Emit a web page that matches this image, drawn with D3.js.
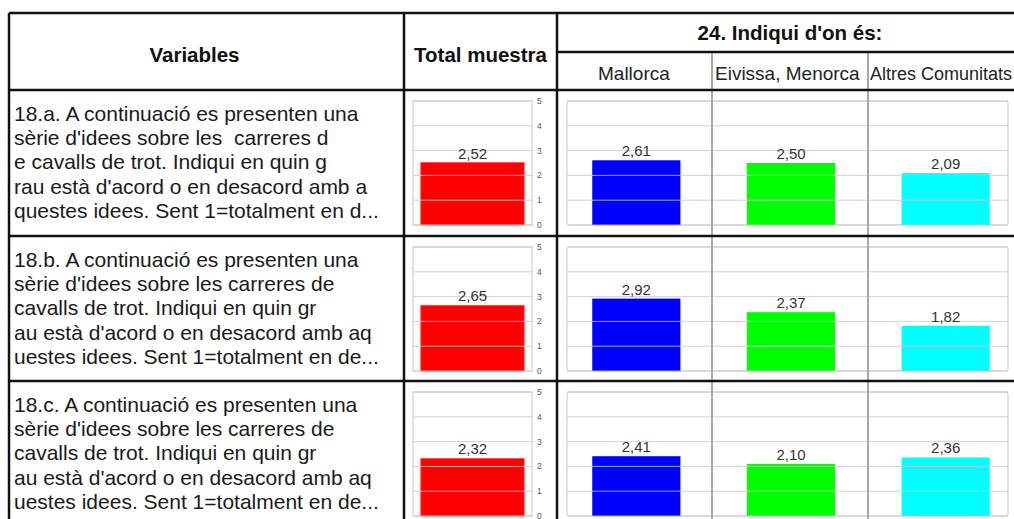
<!DOCTYPE html>
<html>
<head>
<meta charset="utf-8">
<script src="https://cdn.jsdelivr.net/npm/d3@7"></script>
<style>
  body { margin: 0; background: #fff; }
  svg { display: block; font-family: "Liberation Sans", Arial, sans-serif; }
</style>
</head>
<body>
<div id="chart"></div>
<script>
// data
const variableLines = [
  ["18.a. A continuació es presenten una", "sèrie d'idees sobre les  carreres d", "e cavalls de trot. Indiqui en quin g", "rau està d'acord o en desacord amb a", "questes idees. Sent 1=totalment en d..."],
  ["18.b. A continuació es presenten una", "sèrie d'idees sobre les carreres de", "cavalls de trot. Indiqui en quin gr", "au està d'acord o en desacord amb aq", "uestes idees. Sent 1=totalment en de..."],
  ["18.c. A continuació es presenten una", "sèrie d'idees sobre les carreres de", "cavalls de trot. Indiqui en quin gr", "au està d'acord o en desacord amb aq", "uestes idees. Sent 1=totalment en de..."]
];
const groups = ["Mallorca", "Eivissa, Menorca", "Altres Comunitats"];
const groupColors = ["#0000ff", "#00ff00", "#00ffff"];
const totalValues = [2.52, 2.65, 2.32];
const mallorcaValues = [2.61, 2.92, 2.41];
const eivissaValues = [2.50, 2.37, 2.10];
const altresValues = [2.09, 1.82, 2.36];
const yTicks = [0, 1, 2, 3, 4, 5];

const width = 1014, height = 519;
const svg = d3.select("#chart").append("svg")
  .attr("width", width).attr("height", height);

const fmt = d3.formatLocale({decimal: ",", thousands: ".", grouping: [3], currency: ["", "€"]}).format(".2f");

// table geometry
const tableLeft = 9, tableTop = 13, headerBottom = 90, subHeaderY = 52;
const colVarRight = 404, colTotalRight = 557;
const rowTops = [90, 236, 381];
const rowBottom = [236, 381, 526];

const groupSeries = [mallorcaValues, eivissaValues, altresValues];

// scales
const xTotal = d3.scaleBand().domain(["Total"]).range([413, 532]).paddingOuter(0.075).paddingInner(0);
const xGroup = d3.scaleBand().domain(groups).range([559, 1023]).paddingInner(0.43).paddingOuter(0.215);

function yScale(r) {
  return d3.scaleLinear().domain([0, 5]).range([rowTops[r] + 135, rowTops[r] + 11]);
}

// header texts
svg.append("text").attr("x", (tableLeft + colVarRight) / 2 - 12).attr("y", 62)
  .attr("text-anchor", "middle").style("font-weight", "bold").style("font-size", "20.5px")
  .attr("fill", "#111").text("Variables");
svg.append("text").attr("x", (colVarRight + colTotalRight) / 2).attr("y", 62)
  .attr("text-anchor", "middle").style("font-weight", "bold").style("font-size", "20.5px")
  .attr("fill", "#111").text("Total muestra");
svg.append("text").attr("x", 790).attr("y", 40)
  .attr("text-anchor", "middle").style("font-weight", "bold").style("font-size", "20.5px")
  .attr("fill", "#111").text("24. Indiqui d'on és:");

const subStarts = [598, 715, 870];
const subSizes = [19, 19, 18];
svg.selectAll(".subhead").data(groups).enter().append("text")
  .attr("class", "subhead")
  .attr("x", (d, i) => subStarts[i]).attr("y", 80)
  .style("font-size", (d, i) => subSizes[i] + "px").attr("fill", "#222")
  .text(d => d);

// rows
variableLines.forEach((lines, r) => {
  const y = yScale(r);
  const g = svg.append("g").attr("class", "row");

  g.selectAll(".vline").data(lines).enter().append("text")
    .attr("x", 14).attr("y", (d, i) => rowTops[r] + 31 + i * 24.2)
    .attr("xml:space", "preserve").style("white-space", "pre")
    .style("font-size", "21px").attr("fill", "#1a1a1a")
    .text(d => d);

  // total chart
  const tc = g.append("g");
  tc.append("rect").attr("x", 413).attr("y", y(5)).attr("width", 119).attr("height", y(0) - y(5))
    .attr("fill", "#fff").attr("stroke", "#c8c8c8");
  tc.append("rect").attr("x", xTotal("Total")).attr("width", xTotal.bandwidth())
    .attr("y", y(totalValues[r])).attr("height", y(0) - y(totalValues[r]))
    .attr("fill", "#ff0000").attr("stroke", "#ff5050").attr("stroke-width", 0.8);
  tc.selectAll(".grid").data(yTicks).enter().append("line")
    .attr("x1", 413).attr("x2", 533).attr("y1", d => y(d)).attr("y2", d => y(d))
    .attr("stroke", "#c8c8c8").attr("stroke-opacity", 0.8);
  tc.selectAll(".tick").data(yTicks).enter().append("text")
    .attr("x", 537).attr("y", d => Math.min(y(d) + 3, 518.5))
    .style("font-size", "8.5px").attr("fill", "#555").text(d => d);
  tc.append("text").attr("x", xTotal("Total") + xTotal.bandwidth() / 2)
    .attr("y", y(totalValues[r]) - 4).attr("text-anchor", "middle")
    .style("font-size", "15px").attr("fill", "#333").text(fmt(totalValues[r]));

  // groups chart
  const gc = g.append("g");
  gc.append("rect").attr("x", 567).attr("y", y(5)).attr("width", 441).attr("height", y(0) - y(5))
    .attr("fill", "#fff").attr("stroke", "#c8c8c8").attr("rx", 2);
  const vals = groupSeries.map(s => s[r]);
  gc.selectAll(".bar").data(groups).enter().append("rect")
    .attr("x", d => xGroup(d)).attr("width", xGroup.bandwidth())
    .attr("y", (d, i) => y(vals[i])).attr("height", (d, i) => y(0) - y(vals[i]))
    .attr("fill", (d, i) => groupColors[i]);
  gc.selectAll(".grid").data(yTicks).enter().append("line")
    .attr("x1", 567).attr("x2", 1008).attr("y1", d => y(d)).attr("y2", d => y(d))
    .attr("stroke", "#c8c8c8").attr("stroke-opacity", 0.8);
  gc.selectAll(".val").data(groups).enter().append("text")
    .attr("x", d => xGroup(d) + xGroup.bandwidth() / 2)
    .attr("y", (d, i) => y(vals[i]) - 4).attr("text-anchor", "middle")
    .style("font-size", "15px").attr("fill", "#333")
    .text((d, i) => fmt(vals[i]));
});

// grey column dividers over the charts
[712, 868].forEach(x => {
  svg.append("line").attr("x1", x).attr("x2", x).attr("y1", subHeaderY).attr("y2", height)
    .attr("stroke", "#a8a8a8").attr("stroke-width", 2);
});

// black table rules
const rules = svg.append("g").attr("stroke", "#111").attr("stroke-width", 2.5);
rules.append("line").attr("x1", tableLeft).attr("x2", width).attr("y1", tableTop).attr("y2", tableTop);
rules.append("line").attr("x1", colTotalRight).attr("x2", width).attr("y1", subHeaderY).attr("y2", subHeaderY);
[headerBottom, rowBottom[0], rowBottom[1]].forEach(yy => {
  rules.append("line").attr("x1", tableLeft).attr("x2", width).attr("y1", yy).attr("y2", yy);
});
[tableLeft, colVarRight, colTotalRight].forEach(xx => {
  rules.append("line").attr("x1", xx).attr("x2", xx).attr("y1", tableTop).attr("y2", height);
});
</script>
</body>
</html>
